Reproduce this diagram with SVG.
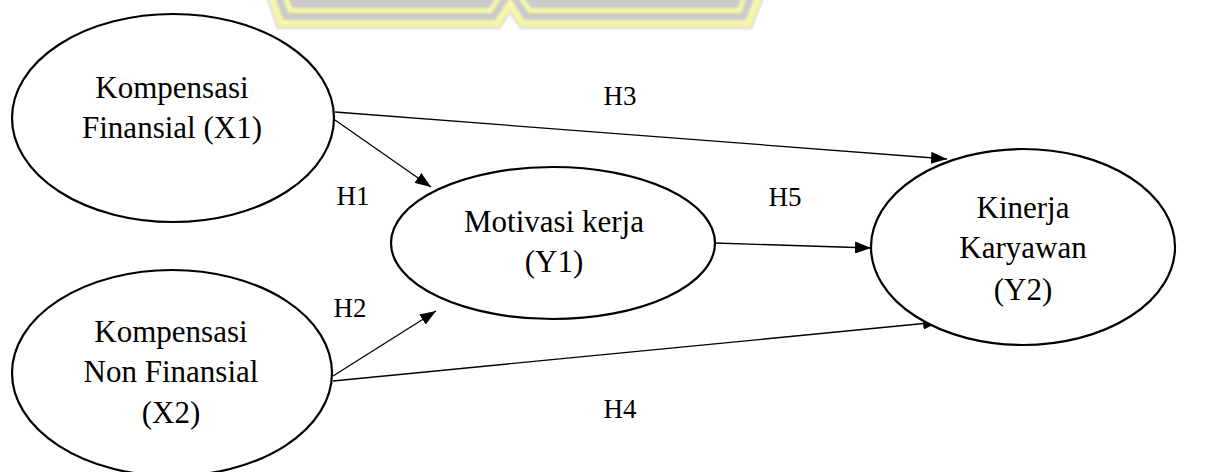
<svg xmlns="http://www.w3.org/2000/svg" width="1205" height="472" viewBox="0 0 1205 472">
  <defs>
    <style>
      .node ellipse { fill: #ffffff; stroke: #000000; stroke-width: 2.2; }
      .node text { font-family: "Liberation Serif", "Times New Roman", serif; font-size: 31px; fill: #000000; text-anchor: middle; }
      .edge line { stroke: #000000; stroke-width: 1.3; marker-end: url(#arrow); }
      .lbl { font-family: "Liberation Serif", "Times New Roman", serif; font-size: 27px; fill: #000000; text-anchor: middle; }
      .wm-grey { fill: #cbcbcb; }
      .wm-edge { fill: #d9d9d9; }
      .wm-yellow { fill: #f6f6a8; }
    </style>
    <marker id="arrow" viewBox="0 0 16 12" refX="16" refY="6" markerWidth="16" markerHeight="12" markerUnits="userSpaceOnUse" orient="auto">
      <path d="M0,0 L16,6 L0,12 Z" fill="#000000"/>
    </marker>
    <filter id="soft" x="-5%" y="-50%" width="110%" height="200%">
      <feGaussianBlur stdDeviation="0.8"/>
    </filter>
  </defs>

  <rect width="1205" height="472" fill="#ffffff"/>

  <!-- faint banded emblem at the top edge -->
  <g id="emblem" filter="url(#soft)">
    <polygon class="wm-edge" points="265,-5 277,29 500,29 510,14 520,29 752,29 765,-5"/>
    <polygon class="wm-yellow" points="267.1,-5 278.4,27 498.9,27 510,10.4 521.1,27 750.6,27 762.9,-5"/>
    <polygon class="wm-grey" points="274.5,-5 283.4,20 495.2,20 510,-2.2 524.8,20 745.8,20 755.4,-5"/>
    <polygon class="wm-yellow" points="282,-5 288.3,13 491.5,13 510,-14.8 528.5,13 741,13 747.9,-5"/>
    <polygon class="wm-grey" points="287.3,-5 291.8,8 488.9,8 510,-23.8 531.1,8 737.5,8 742.5,-5"/>
  </g>

  <!-- paths between constructs -->
  <g id="connectors" class="edge">
    <line x1="335" y1="112" x2="947" y2="159"/>
    <line x1="335" y1="120" x2="431" y2="187"/>
    <line x1="333" y1="376" x2="436" y2="311"/>
    <line x1="333" y1="381" x2="939" y2="322"/>
    <line x1="715" y1="243" x2="871" y2="248"/>
  </g>

  <g id="labels">
    <text class="lbl" x="620" y="105">H3</text>
    <text class="lbl" x="353" y="205">H1</text>
    <text class="lbl" x="785" y="206">H5</text>
    <text class="lbl" x="350" y="317">H2</text>
    <text class="lbl" x="620" y="418">H4</text>
  </g>

  <g id="node-x1" class="node">
    <ellipse cx="173" cy="118" rx="161" ry="104"/>
    <text x="172" y="98">Kompensasi</text>
    <text x="172" y="138">Finansial (X1)</text>
  </g>

  <g id="node-x2" class="node">
    <ellipse cx="172" cy="373" rx="160" ry="103"/>
    <text x="171" y="342">Kompensasi</text>
    <text x="171" y="382">Non Finansial</text>
    <text x="171" y="423">(X2)</text>
  </g>

  <g id="node-y1" class="node">
    <ellipse cx="553" cy="243" rx="162" ry="76"/>
    <text x="554" y="232">Motivasi kerja</text>
    <text x="554" y="272">(Y1)</text>
  </g>

  <g id="node-y2" class="node">
    <ellipse cx="1023" cy="247" rx="152" ry="98"/>
    <text x="1023" y="218">Kinerja</text>
    <text x="1023" y="258">Karyawan</text>
    <text x="1023" y="300">(Y2)</text>
  </g>
</svg>
